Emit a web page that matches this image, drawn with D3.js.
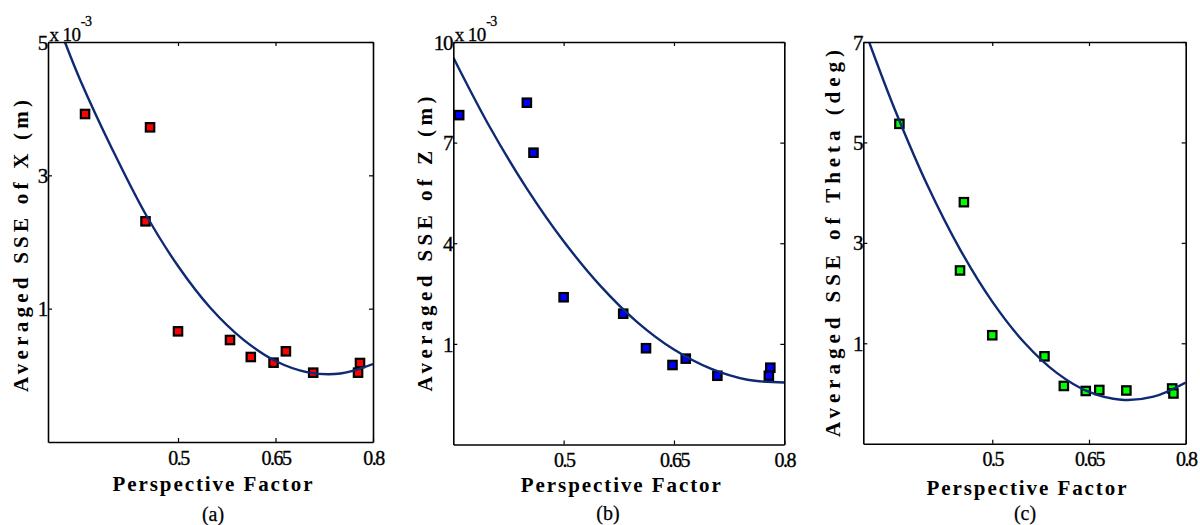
<!DOCTYPE html>
<html><head><meta charset="utf-8">
<script src="https://cdn.jsdelivr.net/npm/d3@7"></script>
<style>body{margin:0;background:#fff}svg{display:block}</style>
</head><body>
<svg id="chart" width="1200" height="525"></svg>
<script>
// ---------- data ----------
const xTickValues = [0.5, 0.65, 0.8];
const xTickLabels = ["0.5", "0.65", "0.8"];

const yTicksA = [1, 3, 5];
const yTicksB = [1, 4, 7, 10];
const yTicksC = [1, 3, 5, 7];

const ptsXA = [0.357, 0.457, 0.45, 0.5, 0.58, 0.612, 0.647, 0.666, 0.708, 0.78, 0.777];
const ptsYA = [3.92, 3.72, 2.31, 0.66, 0.53, 0.275, 0.19, 0.36, 0.04, 0.185, 0.04];
const fitXA = [0.326, 0.35, 0.4, 0.45, 0.5, 0.55, 0.6, 0.65, 0.7, 0.75, 0.8];
const fitYA = [5.0, 4.42, 3.37, 2.42, 1.64, 1.01, 0.54, 0.215, 0.045, 0.027, 0.17];

const ptsXB = [0.358, 0.45, 0.459, 0.5, 0.581, 0.612, 0.648, 0.666, 0.709, 0.781, 0.779];
const ptsYB = [7.82, 8.19, 6.70, 2.39, 1.90, 0.87, 0.37, 0.56, 0.05, 0.29, 0.05];
const fitXB = [0.35, 0.4, 0.45, 0.5, 0.55, 0.6, 0.65, 0.7, 0.75, 0.8];
const fitYB = [9.54, 7.45, 5.63, 4.06, 2.73, 1.65, 0.83, 0.26, -0.07, -0.15];

const ptsXC = [0.356, 0.456, 0.45, 0.5, 0.581, 0.611, 0.645, 0.666, 0.708, 0.779, 0.781];
const ptsYC = [5.37, 3.81, 2.45, 1.16, 0.74, 0.15, 0.05, 0.07, 0.06, 0.10, 0.0];
const fitXC = [0.309, 0.35, 0.4, 0.45, 0.5, 0.55, 0.6, 0.65, 0.7, 0.75, 0.8];
const fitYC = [7.0, 5.62, 4.13, 2.87, 1.83, 1.01, 0.41, 0.03, -0.125, -0.063, 0.22];

const yLabels = ["Averaged SSE of X (m)", "Averaged SSE of Z (m)", "Averaged SSE of Theta (deg)"];
const captions = ["(a)", "(b)", "(c)"];
const xLabel = "Perspective Factor";
const markerColors = ["#ff0000", "#0000ff", "#00ff00"];

// ---------- layout ----------
const panels = [
  {x0:48, x1:373, y0:42, y1:442, xd:[0.3,0.8], yd:[-1,5], yt:yTicksA, px:ptsXA, py:ptsYA, fx:fitXA, fy:fitYA,
   exp:true, ylx:28, yly:246, yll:292, xly:491, capx:213, capy:521},
  {x0:453.3, x1:784.3, y0:42, y1:444.5, xd:[0.35,0.8], yd:[-2,10], yt:yTicksB, px:ptsXB, py:ptsYB, fx:fitXB, fy:fitYB,
   exp:true, ylx:431.5, yly:244, yll:295, xly:492, capx:608, capy:520},
  {x0:863.3, x1:1185.7, y0:42, y1:443.7, xd:[0.3,0.8], yd:[-1,7], yt:yTicksC, px:ptsXC, py:ptsYC, fx:fitXC, fy:fitYC,
   exp:false, ylx:840, yly:243.5, yll:387, xly:495, capx:1025, capy:520}
];

const FONT = '"Liberation Serif"';
const svg = d3.select("#chart");
const curveColor = "#0d2a73";

panels.forEach((p, i) => {
  const x = d3.scaleLinear().domain(p.xd).range([p.x0, p.x1]);
  const y = d3.scaleLinear().domain(p.yd).range([p.y1, p.y0]);
  const g = svg.append("g");

  const clipId = "clip" + i;
  g.append("clipPath").attr("id", clipId).append("rect")
    .attr("x", p.x0).attr("y", p.y0).attr("width", p.x1 - p.x0).attr("height", p.y1 - p.y0);

  // markers
  const pts = p.px.map((v, k) => [v, p.py[k]]);
  g.append("g").selectAll("rect").data(pts).join("rect")
    .attr("x", d => x(d[0]) - 4.2).attr("y", d => y(d[1]) - 4.2)
    .attr("width", 8.4).attr("height", 8.4)
    .attr("fill", markerColors[i]).attr("stroke", "#000").attr("stroke-width", 2.2);

  // fitted curve
  const fit = p.fx.map((v, k) => [v, p.fy[k]]);
  g.append("path").datum(fit)
    .attr("clip-path", `url(#${clipId})`)
    .attr("fill", "none").attr("stroke", curveColor).attr("stroke-width", 2.4)
    .attr("d", d3.line().x(d => x(d[0])).y(d => y(d[1])).curve(d3.curveCatmullRom.alpha(0.5)));

  // axes (box with inward ticks)
  const bottom = d3.axisBottom(x).tickValues(xTickValues).tickFormat((d, k) => xTickLabels[k]).tickSizeInner(-4).tickSizeOuter(0).tickPadding(9);
  const gb = g.append("g").attr("transform", `translate(0,${p.y1})`).call(bottom);
  const top = d3.axisTop(x).tickValues(xTickValues).tickFormat("").tickSizeInner(-4).tickSizeOuter(0);
  const gt = g.append("g").attr("transform", `translate(0,${p.y0})`).call(top);
  const left = d3.axisLeft(y).tickValues(p.yt).tickFormat(d3.format("d")).tickSizeInner(-4).tickSizeOuter(0).tickPadding(1);
  const gl = g.append("g").attr("transform", `translate(${p.x0},0)`).call(left);
  const right = d3.axisRight(y).tickValues(p.yt).tickFormat("").tickSizeInner(-4).tickSizeOuter(0);
  const gr = g.append("g").attr("transform", `translate(${p.x1},0)`).call(right);

  [gb, gt, gl, gr].forEach(a => {
    a.attr("font-family", null).attr("font-size", null);
    a.select(".domain").attr("stroke", "#000").attr("stroke-width", 1.6);
    a.selectAll(".tick line").attr("stroke", "#000").attr("stroke-width", 1.2);
    a.selectAll("text").attr("fill", "#000").attr("stroke", "#000").attr("stroke-width", 0.35).style("font-family", FONT);
  });
  gb.selectAll("text").style("font-size", "20px").attr("letter-spacing", -1.5).attr("dy", "0.68em");
  gl.selectAll("text").style("font-size", "21px").attr("dy", "0.34em").attr("letter-spacing", -1.2);

  // exponent label
  if (p.exp) {
    const t = g.append("text").attr("x", p.x0 + 1.5).attr("y", p.y0 - 1)
      .style("font-size", "19px").attr("letter-spacing", -0.6).attr("fill", "#000")
      .attr("stroke", "#000").attr("stroke-width", 0.3).style("font-family", FONT);
    t.append("tspan").text("x 10");
    t.append("tspan").style("font-size", "14px").attr("dy", -15).attr("dx", 0.5).text("-3");
  }

  // y label
  g.append("text")
    .attr("transform", `translate(${p.ylx},${p.yly}) rotate(-90)`)
    .attr("text-anchor", "middle").attr("font-weight", "bold").style("font-size", "21px")
    .attr("textLength", p.yll).attr("lengthAdjust", "spacing")
    .style("font-family", FONT).attr("fill", "#000").text(yLabels[i]);

  // x label
  g.append("text")
    .attr("x", (p.x0 + p.x1) / 2 + 2).attr("y", p.xly)
    .attr("text-anchor", "middle").attr("font-weight", "bold").style("font-size", "21px")
    .attr("textLength", 200).attr("lengthAdjust", "spacing")
    .style("font-family", FONT).attr("fill", "#000").text(xLabel);

  // caption
  g.append("text").attr("x", p.capx).attr("y", p.capy)
    .attr("text-anchor", "middle").style("font-size", "20px").style("font-family", FONT)
    .attr("fill", "#000").attr("stroke", "#000").attr("stroke-width", 0.25).text(captions[i]);
});
</script>
</body></html>
